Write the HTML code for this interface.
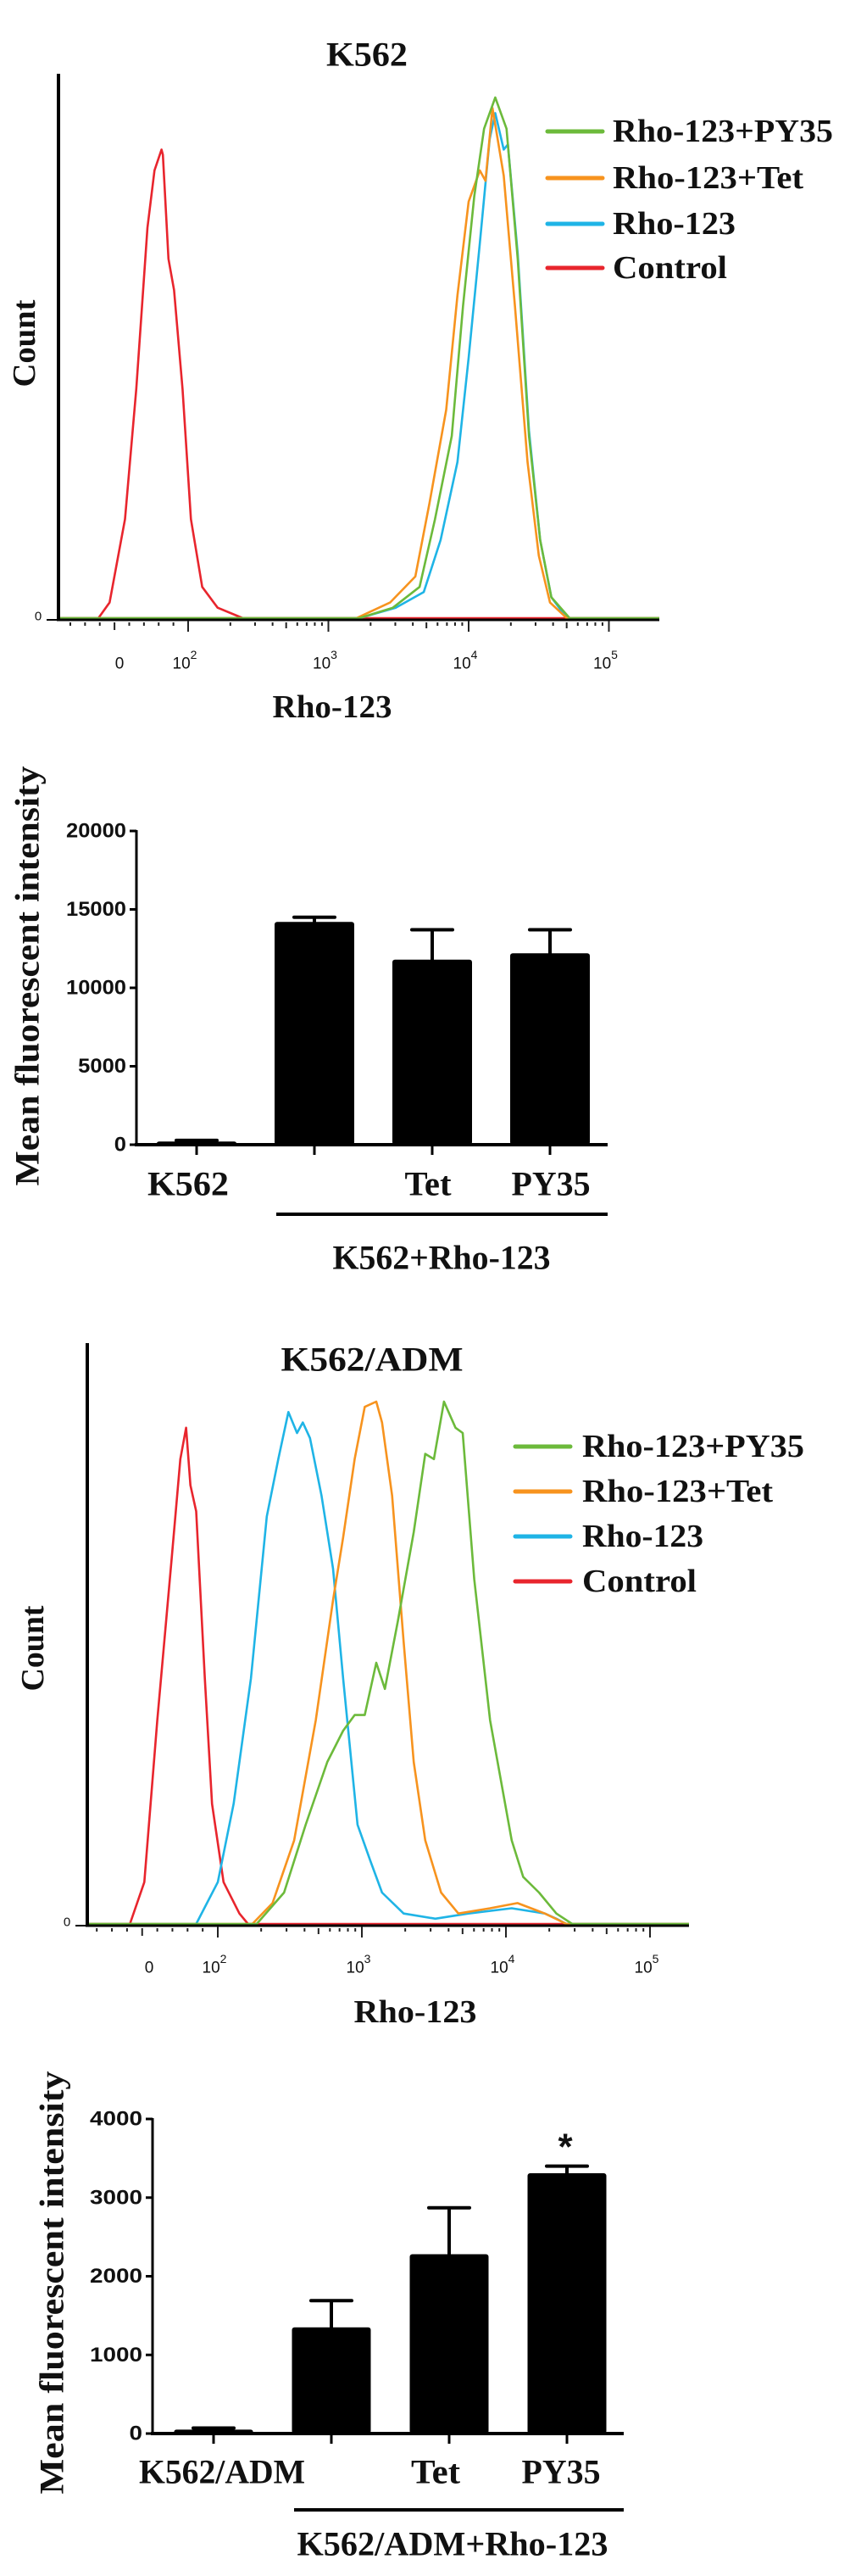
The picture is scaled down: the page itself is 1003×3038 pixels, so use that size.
<!DOCTYPE html>
<html><head><meta charset="utf-8"><style>
html,body{margin:0;padding:0;background:#fff;}
svg{display:block;}
</style></head><body>
<svg id="fig" width="1003" height="3038" viewBox="0 0 1003 3038" xmlns="http://www.w3.org/2000/svg"></svg>
<script>
// ---------- Panel A: K562 flow histogram (x = log10 decade, y = relative count) ----------
const k562RedX = [1.36,1.44,1.55,1.63,1.71,1.76,1.81,1.82,1.86,1.90,1.96,2.02,2.10,2.21,2.39];
const k562RedY = [0,3,19,44,75,86,90,89,69,63,44,19,6,2,0];
const k562BlueX = [3.22,3.48,3.68,3.80,3.92,4.00,4.08,4.15,4.19,4.25,4.28,4.35,4.43,4.51,4.59,4.70];
const k562BlueY = [0,2,5,15,30,50,72,92,97,90,91,70,36,15,4,0];
const k562OrangeX = [3.20,3.44,3.62,3.72,3.84,3.92,4.00,4.08,4.12,4.17,4.25,4.33,4.42,4.50,4.58,4.70];
const k562OrangeY = [0,3,8,22,40,62,80,86,84,98,85,60,30,12,3,0];
const k562GreenX = [3.22,3.46,3.65,3.76,3.88,3.96,4.04,4.11,4.19,4.27,4.35,4.43,4.51,4.59,4.72];
const k562GreenY = [0,2,6,19,35,60,81,94,100,94,69,35,15,4,0];

// ---------- Panel B: K562 bar chart ----------
const barCats1 = ["K562","","Tet","PY35"];
const barVals1 = [200,14200,11800,12200];
const barErr1 = [80,300,1900,1500];
const barTicks1 = [0,5000,10000,15000,20000];

// ---------- Panel C: K562/ADM flow histogram ----------
const admRedX = [1.39,1.49,1.58,1.68,1.74,1.78,1.81,1.85,1.91,1.96,2.04,2.15,2.21];
const admRedY = [0,8,39,70,89,95,84,79,47,23,8,2,0];
const admBlueX = [1.85,2.00,2.11,2.23,2.34,2.42,2.49,2.55,2.59,2.64,2.72,2.80,2.87,2.97,3.06,3.14,3.29,3.51,3.74,4.04,4.27,4.35,4.42];
const admBlueY = [0,8,23,47,78,89,98,94,96,93,82,68,47,19,12,6,2,1,2,3,2,1,0];
const admOrangeX = [2.24,2.38,2.53,2.68,2.80,2.87,2.95,3.02,3.10,3.14,3.21,3.29,3.36,3.44,3.55,3.67,3.89,4.08,4.27,4.42];
const admOrangeY = [0,4,16,39,62,74,89,99,100,96,82,54,31,16,6,2,3,4,2,0];
const admGreenX = [2.27,2.46,2.61,2.76,2.87,2.95,3.02,3.10,3.16,3.25,3.36,3.44,3.50,3.57,3.65,3.70,3.78,3.89,4.04,4.12,4.23,4.35,4.46];
const admGreenY = [0,6,19,31,37,40,40,50,45,58,75,90,89,100,95,94,66,39,16,9,6,2,0];

// ---------- Panel D: K562/ADM bar chart ----------
const barCats2 = ["K562/ADM","","Tet","PY35"];
const barVals2 = [50,1350,2280,3310];
const barErr2 = [20,340,590,90];
const barTicks2 = [0,1000,2000,3000,4000];

const decadeTicks = [2,3,4,5];
const legendLabels = ["Rho-123+PY35","Rho-123+Tet","Rho-123","Control"];
const legendColors = ["#6cba3b","#f7931e","#1fb4e6","#e8252d"];

const NS = "http://www.w3.org/2000/svg";
const svg = document.getElementById("fig");
function mk(tag, attrs, parent){
  const e = document.createElementNS(NS, tag);
  for (const k in attrs) e.setAttribute(k, attrs[k]);
  (parent || svg).appendChild(e);
  return e;
}
const SERIF = "'Liberation Serif', serif";
const SANS = "'Liberation Sans', sans-serif";
function txt(x, y, s, size, len, anchor, fam, rot, weight){
  const a = {x:x, y:y, "font-size":size, "font-family":fam || SERIF, "font-weight":weight || "bold", "text-anchor":anchor || "middle", "dominant-baseline":"central", fill:"#111"};
  if (len) { a.textLength = len; a.lengthAdjust = "spacingAndGlyphs"; }
  if (rot) a.transform = "rotate(-90 " + x + " " + y + ")";
  const t = mk("text", a);
  t.textContent = s;
  return t;
}

function flowPanel(cfg){
  const xs = d => cfg.x0 + (d - 2) * cfg.dec;
  const ys = c => cfg.zero - c * (cfg.zero - cfg.top100) / 100;
  let e = mk("line", {x1:cfg.ax, y1:cfg.axTop, x2:cfg.ax, y2:cfg.zero+2, stroke:"#000","stroke-width":4});
  
  
  cfg.series.forEach((s, i) => {
    let pts = [[cfg.ax+2, cfg.zero]];
    s.x.forEach((v, j) => pts.push([xs(v), ys(s.y[j])]));
    pts.push([cfg.axRight, cfg.zero]);
    const pl = mk("polyline", {points: pts.map(p => p[0].toFixed(1)+","+p[1].toFixed(1)).join(" "), fill:"none", stroke:s.color, "stroke-width":2.6, "stroke-linejoin":"round"});
    
    
  });
  e = mk("line", {x1:cfg.ax-2, y1:cfg.zero+2, x2:cfg.axRight, y2:cfg.zero+2, stroke:"#000","stroke-width":3});
  
  
  e = mk("line", {x1:cfg.ax-14, y1:cfg.zero+2, x2:cfg.ax, y2:cfg.zero+2, stroke:"#000","stroke-width":2});
  
  
  e = txt(cfg.ax-24, cfg.zero-2, "0", 15, null, "middle", SANS, false, "normal");
  
  
  const tg = mk("g", {stroke:"#222","stroke-width":2});
  
  
  decadeTicks.forEach(d => {
    mk("line", {x1:xs(d), y1:cfg.zero+3, x2:xs(d), y2:cfg.zero+16}, tg);
    if (d < 5) for (let m = 2; m < 10; m++){
      const xx = xs(d + Math.log10(m));
      mk("line", {x1:xx, y1:cfg.zero+5, x2:xx, y2:cfg.zero+(m==5?12:9)}, tg);
    }
  });
  for (let k = 1; k <= 10; k++){
    const xx = cfg.x0 - k * cfg.dec * 0.105;
    if (xx > cfg.ax + 4) mk("line", {x1:xx, y1:cfg.zero+5, x2:xx, y2:cfg.zero+(k%5==0?14:9)}, tg);
  }
  e = txt(cfg.zeroLab, cfg.labY, "0", 19, null, "middle", SANS, false, "normal");
  
  
  decadeTicks.forEach(d => {
    const t = mk("text", {x:xs(d)-4, y:cfg.labY, "font-size":19, "font-family":SANS, "text-anchor":"middle", "dominant-baseline":"central", fill:"#111"});
    t.textContent = "10";
    const sp = mk("tspan", {dy:-11, "font-size":14}, t);
    sp.textContent = String(d);
    
    
  });
  e = txt(cfg.titleX, cfg.titleY, cfg.title, 40, cfg.titleLen);
  
  
  e = txt(cfg.countX, cfg.countY, "Count", 38, cfg.countLen, "middle", SERIF, true);
  
  
  e = txt(cfg.xlabX, cfg.xlabY, "Rho-123", 38, cfg.xlabLen);
  
  
  legendLabels.forEach((lab, i) => {
    const y = cfg.legY[i];
    const l = mk("line", {x1:cfg.legX1, y1:y, x2:cfg.legX2, y2:y, stroke:legendColors[i], "stroke-width":5, "stroke-linecap":"round"});
    
    
    const t = txt(cfg.legTX, y, lab, 38, cfg.legLen[i], "start");
    
    
  });
}

function barPanel(cfg){
  const ys = v => cfg.zero - v * (cfg.zero - cfg.topY) / cfg.max;
  let e = mk("line", {x1:cfg.ax, y1:cfg.topY-1, x2:cfg.ax, y2:cfg.zero+2, stroke:"#000","stroke-width":3});
  
  
  cfg.ticks.forEach(t => {
    const l = mk("line", {x1:cfg.ax-8, y1:ys(t), x2:cfg.ax, y2:ys(t), stroke:"#000","stroke-width":3});
    
    
    const s = String(t);
    const tx = txt(cfg.ax-12, ys(t), s, 24, s.length*cfg.digitW, "end", SANS);
    
    
  });
  cfg.vals.forEach((v, i) => {
    const cx = cfg.c0 + i * cfg.step;
    const r = mk("rect", {x:cx - cfg.bw/2, y:ys(v), width:cfg.bw, height:cfg.zero - ys(v), fill:"#000", rx:3});
    
    
    const top = ys(v + cfg.err[i]);
    const eb = mk("path", {d:"M"+cx+" "+ys(v)+" V"+top+" M"+(cx-24)+" "+top+" H"+(cx+24), stroke:"#000","stroke-width":4,"stroke-linecap":"round", fill:"none"});
    
    
    const tk = mk("line", {x1:cx, y1:cfg.zero, x2:cx, y2:cfg.zero+12, stroke:"#000","stroke-width":3});
    
    
    if (cfg.cats[i]) {
      const lx = cfg.labX[i] !== undefined ? cfg.labX[i] : cx;
      const t = txt(lx, cfg.labY, cfg.cats[i], 40, cfg.labLen[i]);
      
      
    }
  });
  e = mk("line", {x1:cfg.ax-2, y1:cfg.zero, x2:cfg.axRight, y2:cfg.zero, stroke:"#000","stroke-width":4});
  
  
  e = mk("line", {x1:cfg.gx1, y1:cfg.gy, x2:cfg.gx2, y2:cfg.gy, stroke:"#000","stroke-width":4});
  
  
  e = txt(cfg.gtX, cfg.gtY, cfg.group, 40, cfg.gtLen);
  
  
  e = txt(cfg.ytX, cfg.ytY, "Mean fluorescent intensity", 40, cfg.ytLen, "middle", SERIF, true);
  
  
  if (cfg.star) {
    e = txt(cfg.star[0], cfg.star[1], "*", 44, null, "middle", SANS);
    
    
  }
}

flowPanel({p:"k562-flow", x0:222, dec:165.5, zero:729, top100:115, ax:69, axTop:87, axRight:778,
  zeroLab:141, labY:783, title:"K562", titleX:433, titleY:64, titleLen:96,
  countX:29, countY:405, countLen:103, xlabX:392, xlabY:834, xlabLen:141,
  legX1:646, legX2:711, legTX:723, legY:[155,210,264,316], legLen:[260,225,145,135],
  series:[
    {name:"control", x:k562RedX, y:k562RedY, color:legendColors[3]},
    {name:"rho123", x:k562BlueX, y:k562BlueY, color:legendColors[2]},
    {name:"rho123-tet", x:k562OrangeX, y:k562OrangeY, color:legendColors[1]},
    {name:"rho123-py35", x:k562GreenX, y:k562GreenY, color:legendColors[0]}
  ]});

barPanel({p:"k562-bar", zero:1350, topY:980, max:20000, ax:161, axRight:717, ticks:barTicks1, digitW:14.2,
  vals:barVals1, err:barErr1, cats:barCats1, c0:232, step:139, bw:94,
  labX:[222,undefined,505,650], labY:1396, labLen:[96,0,55,93],
  gx1:326, gx2:717, gy:1432, group:"K562+Rho-123", gtX:521, gtY:1483, gtLen:257,
  ytX:32, ytY:1151, ytLen:495});

flowPanel({p:"adm-flow", x0:257, dec:170, zero:2269, top100:1653, ax:103, axTop:1584, axRight:813,
  zeroLab:176, labY:2321, title:"K562/ADM", titleX:439, titleY:1603, titleLen:215,
  countX:39, countY:1944, countLen:101, xlabX:490, xlabY:2373, xlabLen:145,
  legX1:608, legX2:673, legTX:687, legY:[1706,1759,1812,1865], legLen:[262,225,143,135],
  series:[
    {name:"control", x:admRedX, y:admRedY, color:legendColors[3]},
    {name:"rho123", x:admBlueX, y:admBlueY, color:legendColors[2]},
    {name:"rho123-tet", x:admOrangeX, y:admOrangeY, color:legendColors[1]},
    {name:"rho123-py35", x:admGreenX, y:admGreenY, color:legendColors[0]}
  ]});

barPanel({p:"adm-bar", zero:2870, topY:2499, max:4000, ax:180, axRight:736, ticks:barTicks2, digitW:15.5,
  vals:barVals2, err:barErr2, cats:barCats2, c0:252, step:139, bw:93,
  labX:[262,undefined,514,662], labY:2915, labLen:[196,0,58,93],
  gx1:347, gx2:736, gy:2960, group:"K562/ADM+Rho-123", gtX:534, gtY:3000, gtLen:367,
  ytX:61, ytY:2692, ytLen:499, star:[667,2532]});
</script>
</body></html>
